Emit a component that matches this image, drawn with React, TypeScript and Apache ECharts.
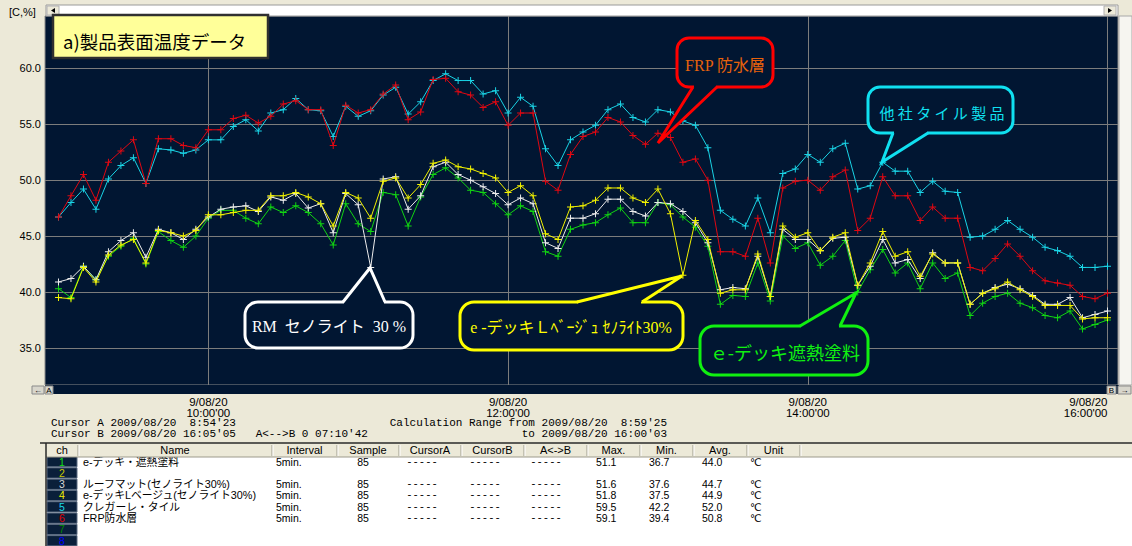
import React, { useEffect, useRef } from "react";
import * as echarts from "echarts";

// ---- sample times (minutes since midnight), 9:00 .. 16:00 every 5 min ----
const FIRST_SAMPLE_MIN = 540;
const SAMPLE_STEP_MIN = 5;
const SAMPLE_COUNT = 85;
const sampleTimes: number[] = Array.from({ length: SAMPLE_COUNT }, (_, i) => FIRST_SAMPLE_MIN + i * SAMPLE_STEP_MIN);

// ---- series values (°C) ----
const greenDeck = [
  40.3, 39.5, 42.3, 41.1, 43.2, 44.1, 44.8, 42.5, 45.4, 44.6,
  44.0, 45.0, 46.6, 47.3, 47.3, 46.6, 46.1, 47.6, 47.1, 47.7,
  47.1, 46.1, 44.2, 47.9, 46.1, 45.4, 48.9, 48.7, 45.9, 48.5,
  50.5, 51.1, 50.2, 49.1, 48.9, 47.9, 46.9, 47.7, 47.2, 43.6,
  43.2, 45.6, 46.0, 46.2, 46.9, 47.5, 46.2, 46.2, 48.0, 47.8,
  46.7, 45.8, 44.1, 38.9, 39.7, 39.6, 42.6, 39.2, 45.0, 43.9,
  44.4, 42.4, 43.2, 44.6, 40.0, 42.0, 43.8, 41.7, 42.6, 40.3,
  42.6, 41.2, 41.7, 37.9, 39.0, 39.6, 39.9, 39.0, 38.6, 37.9,
  37.7, 38.3, 36.7, 37.1, 37.5,
];
const whiteRoofMat = [
  40.9, 41.2, 42.3, 41.1, 43.6, 44.6, 45.3, 43.1, 45.6, 45.3,
  44.7, 45.6, 46.7, 47.4, 47.6, 47.7, 47.2, 48.5, 48.2, 48.8,
  47.5, 47.9, 45.3, 48.8, 47.8, 42.2, 50.1, 50.3, 47.4, 48.6,
  51.2, 51.6, 50.5, 50.0, 49.4, 48.8, 47.8, 48.4, 47.9, 44.4,
  43.9, 46.6, 46.6, 47.0, 48.3, 48.3, 47.2, 46.8, 48.0, 47.9,
  47.2, 46.2, 44.4, 40.2, 40.4, 40.3, 43.2, 39.6, 45.6, 44.7,
  44.7, 43.7, 44.8, 44.9, 40.6, 42.3, 44.7, 42.6, 42.9, 41.2,
  43.5, 42.6, 42.6, 38.9, 39.9, 40.4, 40.7, 40.3, 39.7, 38.9,
  38.9, 39.5, 37.7, 38.0, 38.3,
];
const yellowDeck = [
  39.5, 39.4, 42.2, 40.9, 43.3, 44.2, 44.7, 42.6, 45.5, 45.3,
  45.0, 45.5, 46.9, 46.9, 47.1, 47.3, 47.3, 48.6, 48.6, 48.9,
  48.5, 47.9, 45.9, 48.9, 48.4, 46.6, 49.9, 50.2, 48.4, 49.6,
  51.5, 51.8, 51.2, 51.0, 50.6, 50.2, 48.9, 49.5, 48.6, 45.2,
  44.7, 47.6, 47.7, 48.2, 49.3, 49.3, 48.4, 48.0, 49.2, 47.0,
  41.5, 46.4, 44.7, 39.9, 40.2, 40.2, 43.4, 39.6, 45.9, 44.9,
  45.3, 43.7, 44.9, 45.3, 40.6, 42.6, 45.4, 43.2, 43.6, 41.4,
  43.4, 42.6, 42.6, 38.9, 39.9, 40.3, 40.9, 40.2, 39.6, 38.8,
  38.8, 38.8, 37.6, 37.7, 37.7,
];
const cyanTile = [
  46.7, 48.0, 49.2, 47.4, 50.1, 51.3, 52.0, 49.7, 52.8, 52.7,
  52.4, 52.7, 53.6, 53.6, 54.8, 55.4, 54.4, 56.0, 56.3, 57.3,
  56.3, 56.2, 53.9, 56.6, 55.7, 56.2, 57.6, 58.3, 55.9, 57.0,
  58.9, 59.5, 58.9, 58.9, 57.7, 58.0, 56.0, 57.4, 56.6, 52.8,
  51.3, 53.6, 54.3, 54.9, 56.3, 56.8, 55.6, 55.2, 56.3, 56.1,
  55.3, 54.9, 52.9, 47.3, 46.5, 45.9, 48.4, 45.3, 50.6, 51.0,
  52.3, 51.6, 52.8, 53.3, 49.2, 49.5, 51.6, 50.8, 50.8, 48.9,
  49.9, 49.0, 48.9, 44.9, 45.0, 45.6, 46.4, 45.6, 44.9, 44.0,
  43.7, 43.2, 42.2, 42.2, 42.3,
];
const redFrp = [
  46.7, 48.6, 50.5, 48.2, 51.6, 52.6, 53.6, 49.7, 53.7, 53.7,
  53.1, 52.9, 54.5, 54.5, 55.5, 55.8, 55.1, 55.7, 56.8, 57.1,
  56.3, 56.3, 53.1, 56.7, 56.0, 56.3, 57.7, 58.5, 55.4, 56.1,
  59.0, 59.1, 57.9, 57.6, 56.5, 57.0, 54.9, 56.0, 56.0, 49.9,
  49.1, 52.3, 53.9, 54.3, 55.6, 55.2, 54.0, 53.2, 54.2, 53.8,
  51.6, 51.9, 50.0, 43.6, 43.6, 43.2, 46.6, 42.6, 49.3, 49.9,
  50.0, 49.1, 50.3, 50.9, 45.5, 46.6, 50.3, 48.6, 48.6, 46.4,
  47.6, 46.6, 46.6, 42.2, 41.9, 43.0, 44.3, 43.2, 41.9, 41.0,
  40.8, 40.6, 39.6, 39.4, 39.9,
];

const seriesNames = ["e-デッキ・遮熱塗料", "ルーフマット(セノライト30%)", "e-デッキLベージュ(セノライト30%)", "クレガーレ・タイル", "FRP防水層"];
const seriesColors = ["#12d412", "#ececec", "#f2f200", "#1ad4e6", "#e00812"];
const seriesValues = [greenDeck, whiteRoofMat, yellowDeck, cyanTile, redFrp];

// ---- axis ticks ----
const xTickValues = [600, 720, 840, 960];
const xTickLabels = ["9/08/20\n10:00'00", "9/08/20\n12:00'00", "9/08/20\n14:00'00", "9/08/20\n16:00'00"];
const yTickValues = [35, 40, 45, 50, 55, 60];

// ---- info / table texts ----
const cursorLines = ["Cursor A 2009/08/20  8:54'23", "Cursor B 2009/08/20 16:05'05   A<-->B 0 07:10'42"];
const calcLines = ["Calculation Range from 2009/08/20  8:59'25", "to 2009/08/20 16:00'03"];
const tableHeaders = ["ch", "Name", "Interval", "Sample", "CursorA", "CursorB", "A<->B", "Max.", "Min.", "Avg.", "Unit"];
const channelNumbers = ["1", "2", "3", "4", "5", "6", "7", "8"];
const channelColors = ["#10e010", "#c8c800", "#d8d8d8", "#f0f000", "#18d8e8", "#e00000", "#008c00", "#0000ff"];
const channelNames = ["e-デッキ・遮熱塗料", "", "ルーフマット(セノライト30%)", "e-デッキLベージュ(セノライト30%)", "クレガーレ・タイル", "FRP防水層", "", ""];
const channelIntervals = ["5min.", "", "5min.", "5min.", "5min.", "5min.", "", ""];
const channelSamples = ["85", "", "85", "85", "85", "85", "", ""];
const channelMax = ["51.1", "", "51.6", "51.8", "59.5", "59.1", "", ""];
const channelMin = ["36.7", "", "37.6", "37.5", "42.2", "39.4", "", ""];
const channelAvg = ["44.0", "", "44.7", "44.9", "52.0", "50.8", "", ""];
const channelUnit = ["℃", "", "℃", "℃", "℃", "℃", "", ""];

const PLOT_BG = "#011632";
const PAGE_BG = "#ECE9D8";
const MONO = "'Liberation Mono', 'DejaVu Sans Mono', monospace";
const SANS = "'Liberation Sans', Arial, sans-serif";
const JP = "'Noto Sans CJK JP', 'Noto Sans', sans-serif";
const JP_TIGHT = "'Liberation Sans', 'Noto Sans CJK JP', sans-serif";
const SERIF = "'Liberation Serif', 'DejaVu Serif', 'Noto Sans CJK JP', serif";

function callout(
  rect: { x: number; y: number; w: number; h: number; r: number },
  base: [number, number, number],
  tip: [number, number],
  color: string,
  text: string,
  textPos: [number, number],
  font: string,
  textColor: string
): any[] {
  const [bx1, bx2, by] = base;
  const inward = tip[1] < by ? 3 : -3;
  return [
    {
      type: "rect",
      shape: { x: rect.x, y: rect.y, width: rect.w, height: rect.h, r: rect.r },
      style: { fill: PLOT_BG, stroke: color, lineWidth: 3 },
      z: 100,
    },
    {
      type: "polygon",
      shape: { points: [[bx1 + 1, by + inward], [bx1 + 1, by], tip, [bx2 - 1, by], [bx2 - 1, by + inward]] },
      style: { fill: PLOT_BG },
      z: 101,
    },
    {
      type: "polyline",
      shape: { points: [[bx1, by], tip, [bx2, by]] },
      style: { stroke: color, lineWidth: 3, fill: null, lineJoin: "miter" },
      z: 102,
    },
    {
      type: "text",
      x: textPos[0],
      y: textPos[1],
      style: { text, fill: textColor, font, textAlign: "center", textVerticalAlign: "middle" },
      z: 103,
    },
  ];
}

function buildGraphics(): any[] {
  const g: any[] = [];
  // top bar
  g.push({ type: "text", x: 9, y: 12, style: { text: "[C,%]", fill: "#000", font: `11px ${SANS}`, textAlign: "left", textVerticalAlign: "middle" }, z: 5 });
  g.push({ type: "rect", shape: { x: 46, y: 5, width: 1072, height: 11 }, style: { fill: "#ffffff", stroke: "#9a9a9a", lineWidth: 1 }, z: 5 });
  g.push({ type: "rect", shape: { x: 47, y: 6, width: 12, height: 9 }, style: { fill: "#ECE9D8", stroke: "#b0b0b0", lineWidth: 1 }, z: 6 });
  g.push({ type: "polygon", shape: { points: [[55, 8], [55, 13], [51, 10.5]] }, style: { fill: "#000" }, z: 7 });
  g.push({ type: "rect", shape: { x: 1104, y: 6, width: 12, height: 9 }, style: { fill: "#ECE9D8", stroke: "#b0b0b0", lineWidth: 1 }, z: 6 });
  g.push({ type: "polygon", shape: { points: [[1108, 8], [1108, 13], [1112, 10.5]] }, style: { fill: "#000" }, z: 7 });
  // right scrollbar
  g.push({ type: "rect", shape: { x: 1119, y: 16, width: 13, height: 369 }, style: { fill: "#F6F5F0", stroke: "#a8a8a8", lineWidth: 1 }, z: 5 });
  // bottom dark strip with buttons
  g.push({ type: "rect", shape: { x: 45, y: 385, width: 1074, height: 9 }, style: { fill: PLOT_BG }, z: 5 });
  g.push({ type: "rect", shape: { x: 32, y: 386, width: 12, height: 8 }, style: { fill: "#D8D6CC", stroke: "#8a8a8a", lineWidth: 1 }, z: 6 });
  g.push({ type: "text", x: 38, y: 390, style: { text: "←", fill: "#000", font: `bold 8px ${SANS}`, textAlign: "center", textVerticalAlign: "middle" }, z: 7 });
  g.push({ type: "rect", shape: { x: 45, y: 386, width: 8, height: 8 }, style: { fill: "#D8D6CC", stroke: "#8a8a8a", lineWidth: 1 }, z: 6 });
  g.push({ type: "text", x: 49, y: 390, style: { text: "A", fill: "#000", font: `8px ${SANS}`, textAlign: "center", textVerticalAlign: "middle" }, z: 7 });
  g.push({ type: "rect", shape: { x: 1107, y: 386, width: 9, height: 8 }, style: { fill: "#D8D6CC", stroke: "#8a8a8a", lineWidth: 1 }, z: 6 });
  g.push({ type: "text", x: 1111.5, y: 390, style: { text: "B", fill: "#000", font: `8px ${SANS}`, textAlign: "center", textVerticalAlign: "middle" }, z: 7 });
  g.push({ type: "rect", shape: { x: 1118, y: 386, width: 13, height: 8 }, style: { fill: "#D8D6CC", stroke: "#8a8a8a", lineWidth: 1 }, z: 6 });
  g.push({ type: "text", x: 1124.5, y: 390, style: { text: "→", fill: "#000", font: `bold 8px ${SANS}`, textAlign: "center", textVerticalAlign: "middle" }, z: 7 });

  // title box
  g.push({ type: "rect", shape: { x: 53, y: 15, width: 215, height: 43 }, style: { fill: "#FFFF99", stroke: "#303030", lineWidth: 2.5 }, z: 110 });
  g.push({ type: "text", x: 63, y: 41, style: { text: "a)製品表面温度データ", fill: "#000", font: `18.5px ${JP}`, textAlign: "left", textVerticalAlign: "middle" }, z: 111 });

  // callouts
  g.push(...callout({ x: 245, y: 302, w: 168, h: 46, r: 13 }, [343, 385, 302], [370, 268], "#ffffff",
    "RM  セノライト  30 %", [329, 326], `16px ${SERIF}`, "#ffffff"));
  g.push(...callout({ x: 460, y: 302, w: 223, h: 48, r: 14 }, [577, 642, 302], [682, 276], "#ffff00",
    "e -デッキＬﾍﾞｰｼﾞｭ ｾﾉﾗｲﾄ30%", [571, 327], `16px ${SERIF}`, "#ffff00"));
  g.push(...callout({ x: 700, y: 326, w: 168, h: 49, r: 14 }, [800, 840, 326], [856, 293], "#10f010",
    "ｅ-デッキ遮熱塗料", [785, 352], `18px ${JP}`, "#10f010"));
  g.push(...callout({ x: 677, y: 38, w: 96, h: 49, r: 12 }, [693, 717, 87], [658, 143], "#ff0000",
    "FRP 防水層", [725, 65], `16px ${SERIF}`, "#e8620c"));
  g.push(...callout({ x: 868, y: 87, w: 145, h: 46, r: 12 }, [893, 928, 133], [882, 162], "#10e0f0",
    "他 社 タ イ ル 製 品", [942, 112], `15px ${JP}`, "#10e0f0"));

  // cursor / calc info
  cursorLines.forEach((t, i) => {
    g.push({ type: "text", x: 51, y: 423 + i * 10.5, style: { text: t, fill: "#000", font: `11px ${MONO}`, textAlign: "left", textVerticalAlign: "middle" }, z: 5 });
  });
  calcLines.forEach((t, i) => {
    g.push({ type: "text", x: 667, y: 423 + i * 10.5, style: { text: t, fill: "#000", font: `11px ${MONO}`, textAlign: "right", textVerticalAlign: "middle" }, z: 5 });
  });

  // table
  const colEdges = [46, 78, 272, 337, 399, 461, 524, 587, 640, 693, 747, 800];
  const headTop = 443;
  const headBottom = 457;
  g.push({ type: "rect", shape: { x: 46, y: headBottom, width: 1086, height: 546 - headBottom }, style: { fill: "#ffffff" }, z: 5 });
  const rowY = channelNumbers.map((_, k) => 461.5 + k * 11.3);
  channelNumbers.forEach((n, k) => {
    const y = rowY[k];
    g.push({ type: "rect", shape: { x: 47, y: y - 5, width: 30, height: 10.3 }, style: { fill: "#0a1f3a", stroke: "#5a6a80", lineWidth: 1 }, z: 6 });
    g.push({ type: "text", x: 62, y, style: { text: n, fill: channelColors[k], font: `10.5px ${SANS}`, textAlign: "center", textVerticalAlign: "middle" }, z: 7 });
    const dash = channelNames[k] ? "-----" : "";
    const cells: [string, number, string, string][] = [
      [channelNames[k], 83, "left", `10.8px ${JP_TIGHT}`],
      [channelIntervals[k], 276, "left", `10.5px ${SANS}`],
      [channelSamples[k], 363, "center", `10.5px ${SANS}`],
      [dash, 422, "center", `10.5px ${MONO}`],
      [dash, 485, "center", `10.5px ${MONO}`],
      [dash, 546, "center", `10.5px ${MONO}`],
      [channelMax[k], 596, "left", `10.5px ${SANS}`],
      [channelMin[k], 649, "left", `10.5px ${SANS}`],
      [channelAvg[k], 702, "left", `10.5px ${SANS}`],
      [channelUnit[k], 750, "left", `10.5px 'DejaVu Sans', sans-serif`],
    ];
    cells.forEach(([t, x, align, font]) => {
      if (!t) return;
      g.push({ type: "text", x, y, style: { text: t, fill: "#000", font, textAlign: align, textVerticalAlign: "middle", lineHeight: 10.5 }, z: 7 });
    });
  });
  // header drawn above rows
  g.push({ type: "rect", shape: { x: 46, y: headTop, width: 1086, height: headBottom - headTop }, style: { fill: PAGE_BG }, z: 20 });
  g.push({ type: "line", shape: { x1: 40, y1: headTop, x2: 1132, y2: headTop }, style: { stroke: "#2a2a2a", lineWidth: 1.5 }, z: 21 });
  g.push({ type: "line", shape: { x1: 46, y1: headBottom, x2: 1132, y2: headBottom }, style: { stroke: "#9d9a8c", lineWidth: 1 }, z: 21 });
  g.push({ type: "line", shape: { x1: 46, y1: headTop, x2: 46, y2: 546 }, style: { stroke: "#2a2a2a", lineWidth: 1.5 }, z: 21 });
  colEdges.slice(1).forEach((x) => {
    g.push({ type: "line", shape: { x1: x, y1: headTop + 2, x2: x, y2: headBottom - 1 }, style: { stroke: "#9d9a8c", lineWidth: 1 }, z: 21 });
    g.push({ type: "line", shape: { x1: x + 1, y1: headTop + 2, x2: x + 1, y2: headBottom - 1 }, style: { stroke: "#ffffff", lineWidth: 1 }, z: 21 });
  });
  tableHeaders.forEach((h, i) => {
    const cx = (colEdges[i] + colEdges[i + 1]) / 2;
    g.push({ type: "text", x: cx, y: 450, style: { text: h, fill: "#000", font: `11px ${SANS}`, textAlign: "center", textVerticalAlign: "middle" }, z: 22 });
  });
  return g;
}

export default function App() {
  const ref = useRef<HTMLDivElement>(null);
  useEffect(() => {
    if (!ref.current) return;
    const chart = echarts.init(ref.current, null, { renderer: "svg" });
    const option: any = {
      animation: false,
      backgroundColor: PAGE_BG,
      grid: {
        left: 45,
        top: 16,
        width: 1073,
        height: 369,
        show: true,
        backgroundColor: PLOT_BG,
        borderColor: "#8a8a8a",
        borderWidth: 1,
      },
      xAxis: {
        type: "value",
        min: 534.6,
        max: 964.2,
        axisLine: { show: false },
        axisTick: { show: false, customValues: xTickValues },
        axisLabel: {
          customValues: xTickValues,
          formatter: (v: number) => xTickLabels[xTickValues.indexOf(Math.round(v))] ?? "",
          color: "#000",
          fontFamily: SANS,
          fontSize: 11.5,
          lineHeight: 10.5,
          margin: 12,
          alignMaxLabel: "right",
        },
        splitLine: { show: true, lineStyle: { color: "#7c7c7c", width: 1 } },
      },
      yAxis: {
        type: "value",
        min: 31.69,
        max: 64.67,
        axisLine: { show: false },
        axisTick: { show: false, customValues: yTickValues },
        axisLabel: {
          customValues: yTickValues,
          formatter: (v: number) => v.toFixed(1),
          color: "#000",
          fontFamily: SANS,
          fontSize: 11,
          margin: 4,
        },
        splitLine: { show: true, lineStyle: { color: "#7c7c7c", width: 1 } },
      },
      series: seriesValues.map((vals, si) => ({
        name: seriesNames[si],
        type: "line",
        data: vals.map((v, i) => [sampleTimes[i], v]),
        symbol: "path://M0,3H7V4H0Z M3,0H4V7H3Z",
        symbolSize: 7,
        showSymbol: true,
        lineStyle: { color: seriesColors[si], width: 1 },
        itemStyle: { color: seriesColors[si] },
        emphasis: { disabled: true },
        z: 3 + si,
      })),
      graphic: { elements: buildGraphics() },
    };
    chart.setOption(option);
    return () => chart.dispose();
  }, []);
  return <div ref={ref} style={{ position: "fixed", left: 0, top: 0, width: 1132, height: 546 }} />;
}
